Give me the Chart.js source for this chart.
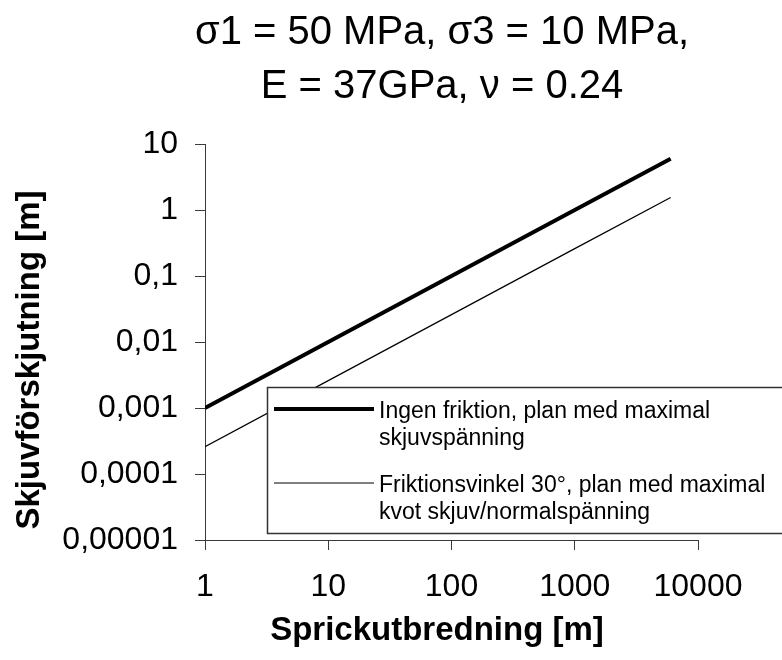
<!DOCTYPE html>
<html><head><meta charset="utf-8">
<script src="https://cdn.jsdelivr.net/npm/chart.js@4"></script>
<style>html,body{margin:0;padding:0;background:#fff}#wrap{width:782px;height:660px}</style>
</head><body><div id="wrap"><canvas id="c" width="782" height="660"></canvas></div>
<script>
const titleLines = ['σ1 = 50 MPa, σ3 = 10 MPa,', 'E = 37GPa, ν = 0.24'];
const xAxisTitle = 'Sprickutbredning [m]';
const yAxisTitle = 'Skjuvförskjutning [m]';
const xValues = [1, 10, 100, 1000, 6000];
const seriesNoFriction = [0.001, 0.01, 0.1, 1, 6];
const seriesFriction30 = [0.00026, 0.0026, 0.026, 0.26, 1.55];
const seriesLabels = [
  ['Ingen friktion, plan med maximal', 'skjuvspänning'],
  ['Friktionsvinkel 30°, plan med maximal', 'kvot skjuv/normalspänning']
];
const xTickValues = [1, 10, 100, 1000, 10000];
const xTickLabels = ['1', '10', '100', '1000', '10000'];
const yTickValues = [0.00001, 0.0001, 0.001, 0.01, 0.1, 1, 10];
const yTickLabels = ['0,00001', '0,0001', '0,001', '0,01', '0,1', '1', '10'];

const FONT = "'Liberation Sans', Arial, Helvetica, sans-serif";
const AXIS = '#3a3a3a';

const toPoints = ys => xValues.map((x, i) => ({x, y: ys[i]}));

const textPlugin = {
  id: 'texts',
  afterDraw(chart) {
    const ctx = chart.ctx;
    ctx.save();
    ctx.fillStyle = '#000';
    ctx.textAlign = 'center';
    ctx.textBaseline = 'alphabetic';
    ctx.font = '40px ' + FONT;
    ctx.fillText(titleLines[0], 442, 44);
    ctx.fillText(titleLines[1], 442, 98);
    ctx.font = 'bold 33px ' + FONT;
    ctx.textBaseline = 'middle';
    ctx.fillText(xAxisTitle, 437, 631);
    ctx.translate(30, 360);
    ctx.rotate(-Math.PI / 2);
    ctx.fillText(yAxisTitle, 0, 0);
    ctx.restore();
  }
};

const legendPlugin = {
  id: 'boxLegend',
  afterDatasetsDraw(chart) {
    const ctx = chart.ctx;
    ctx.save();
    ctx.fillStyle = '#fff';
    ctx.fillRect(267, 387, 540, 146);
    ctx.strokeStyle = '#333';
    ctx.lineWidth = 1.5;
    ctx.strokeRect(267.5, 387.5, 540, 146);
    chart.data.datasets.forEach((ds, i) => {
      const ly = 409 + i * 74;
      ctx.strokeStyle = ds.borderColor;
      ctx.lineWidth = ds.borderWidth;
      ctx.beginPath();
      ctx.moveTo(274, ly);
      ctx.lineTo(374, ly);
      ctx.stroke();
      ctx.fillStyle = '#000';
      ctx.font = '23px ' + FONT;
      ctx.textAlign = 'left';
      ctx.textBaseline = 'alphabetic';
      ds.label.forEach((t, j) => ctx.fillText(t, 379, ly + 9 + j * 27));
    });
    ctx.restore();
  }
};

new Chart(document.getElementById('c'), {
  type: 'line',
  data: {
    datasets: [
      {label: seriesLabels[0], data: toPoints(seriesNoFriction), borderColor: '#000', borderWidth: 4, pointRadius: 0, tension: 0, fill: false},
      {label: seriesLabels[1], data: toPoints(seriesFriction30), borderColor: '#000', borderWidth: 1.2, pointRadius: 0, tension: 0, fill: false}
    ]
  },
  options: {
    responsive: false,
    animation: false,
    devicePixelRatio: 1,
    layout: {padding: {left: 0, right: 84, top: 144, bottom: 0}},
    plugins: {legend: {display: false}, title: {display: false}, tooltip: {enabled: false}},
    scales: {
      x: {
        type: 'logarithmic', min: 1, max: 10000,
        afterBuildTicks: s => { s.ticks = xTickValues.map(v => ({value: v})); },
        afterFit: s => { s.height = 120; },
        grid: {display: true, drawOnChartArea: false, drawTicks: true, tickLength: 10, color: AXIS, lineWidth: 1},
        border: {display: true, color: AXIS, width: 1},
        ticks: {color: '#000', font: {family: FONT, size: 32}, padding: 18, maxRotation: 0, autoSkip: false,
          callback: (v, i) => xTickLabels[i]}
      },
      y: {
        type: 'logarithmic', min: 0.00001, max: 10,
        afterBuildTicks: s => { s.ticks = yTickValues.map(v => ({value: v})); },
        afterFit: s => { s.width = 205; },
        grid: {display: true, drawOnChartArea: false, drawTicks: true, tickLength: 10, color: AXIS, lineWidth: 1},
        border: {display: true, color: AXIS, width: 1},
        ticks: {color: '#000', font: {family: FONT, size: 32}, padding: 17, autoSkip: false,
          callback: (v, i) => yTickLabels[i]}
      }
    }
  },
  plugins: [legendPlugin, textPlugin]
});
</script></body></html>
